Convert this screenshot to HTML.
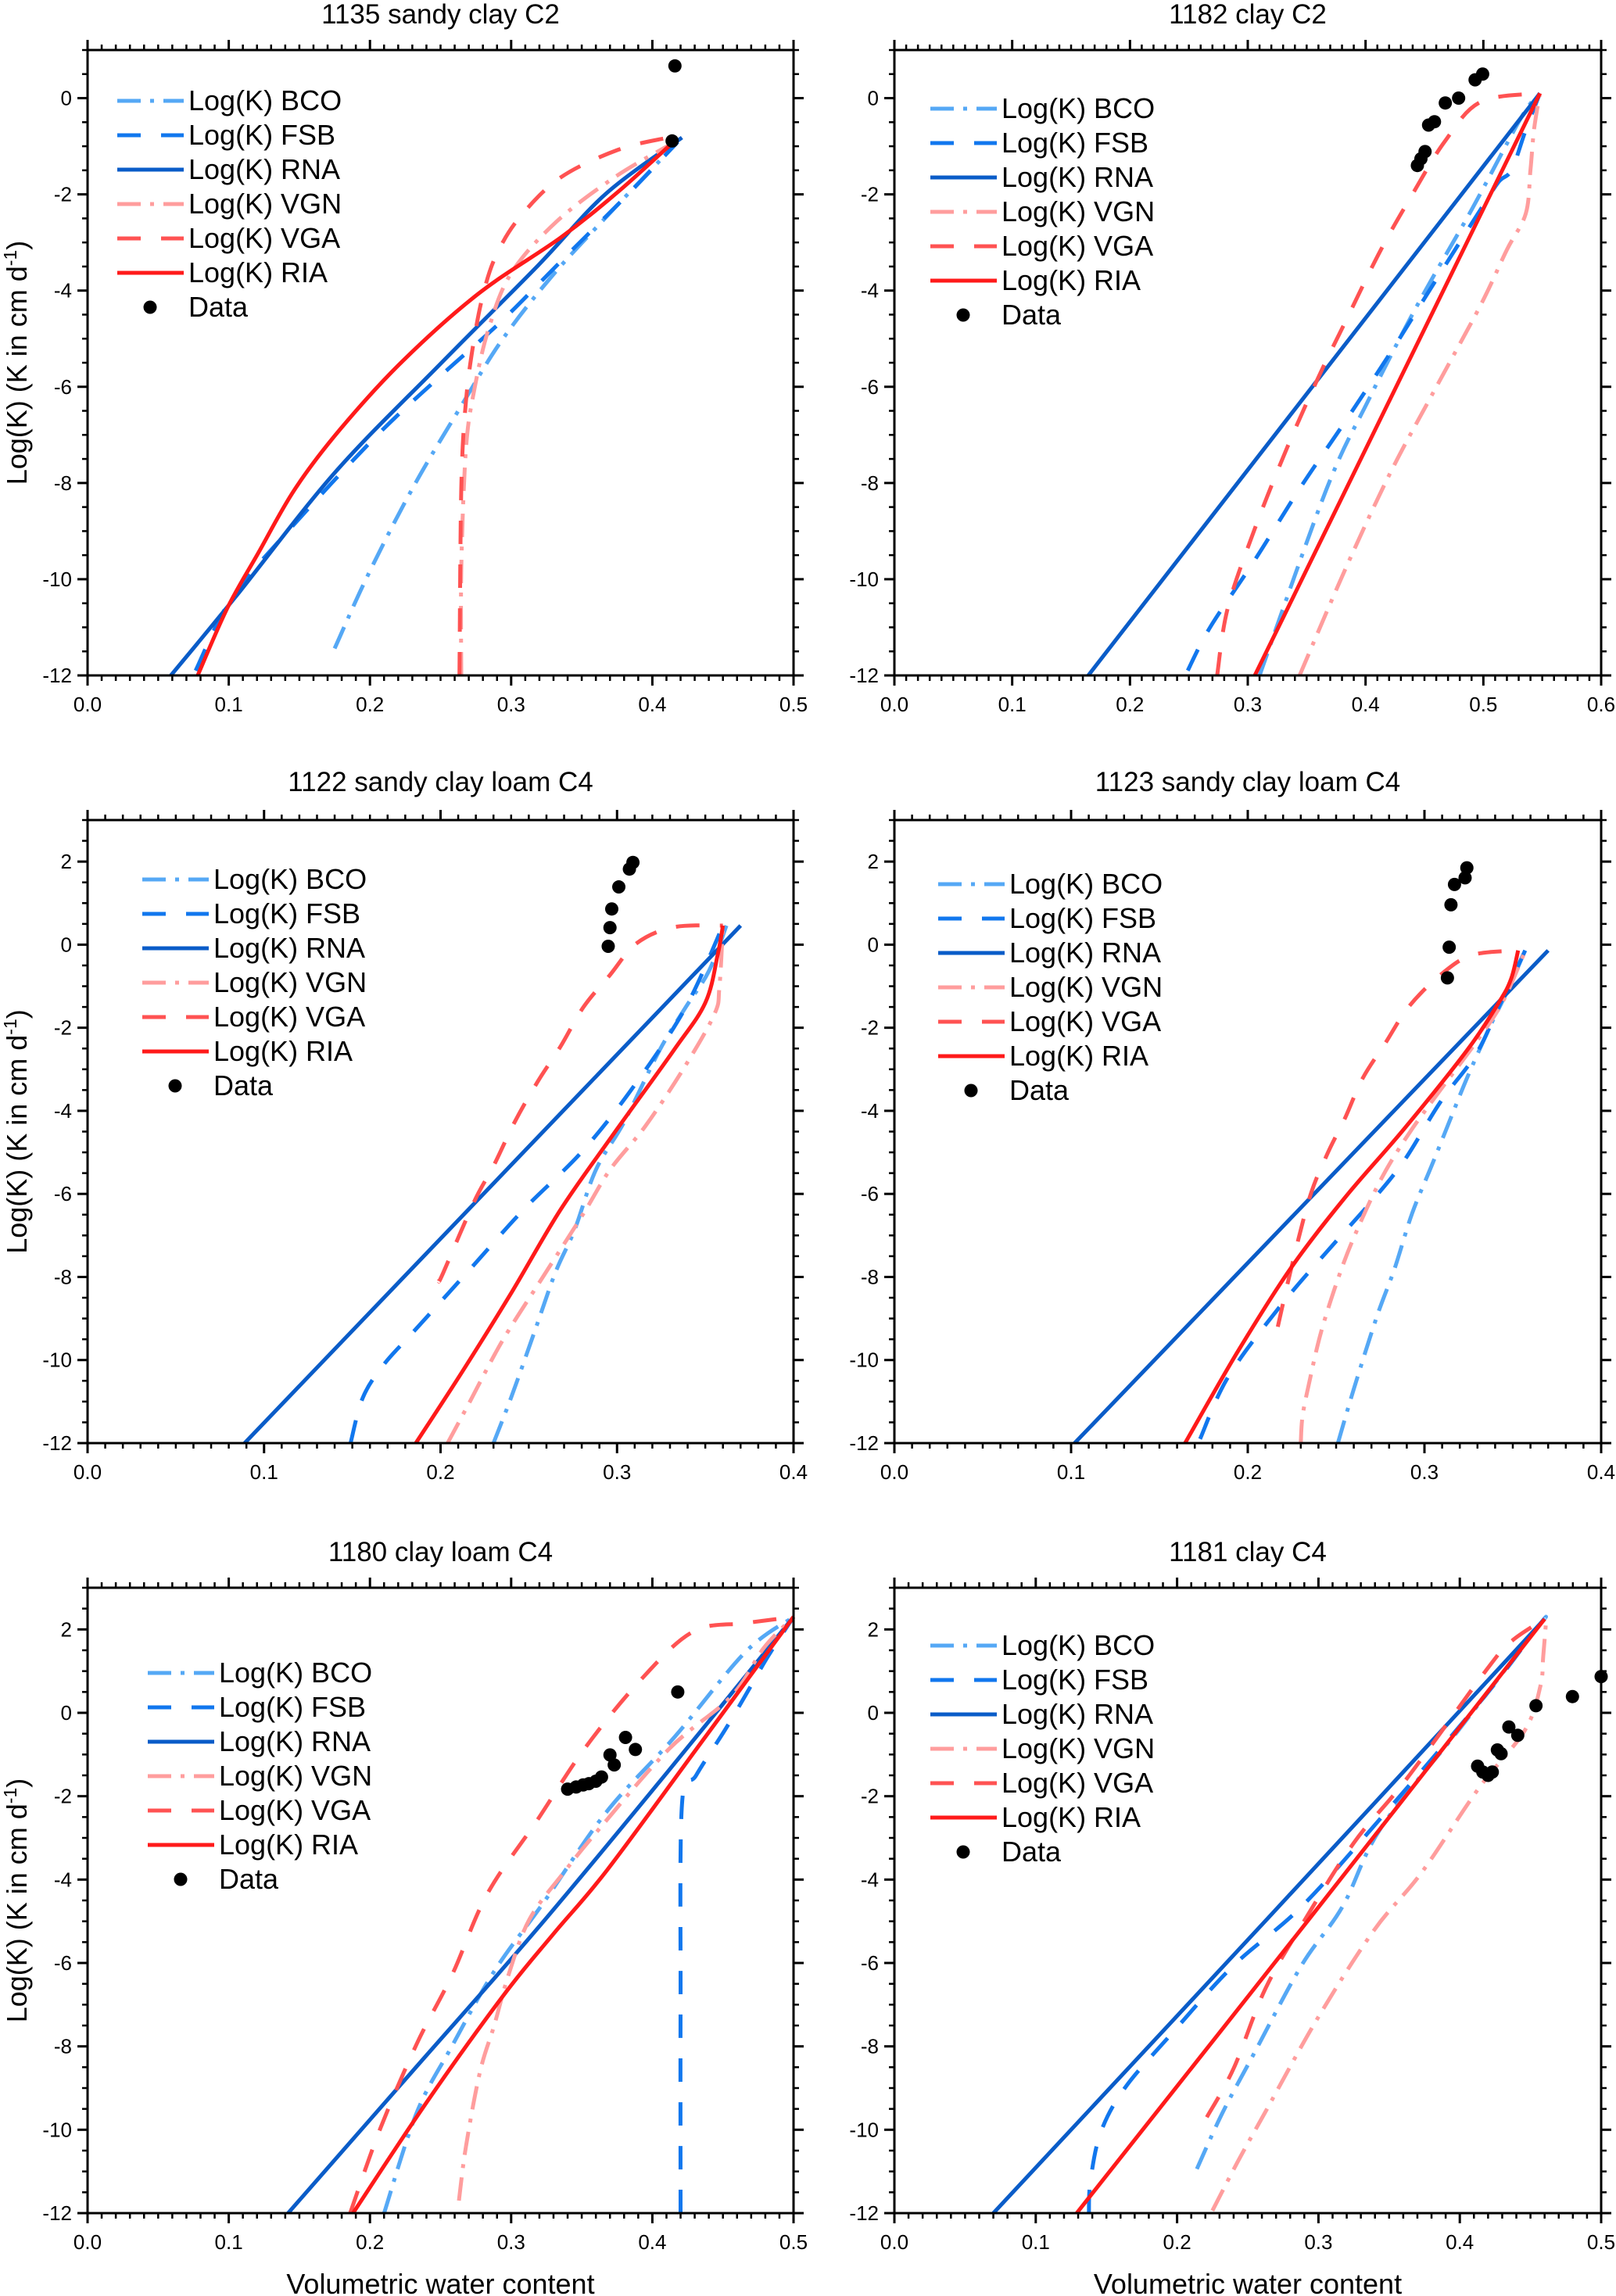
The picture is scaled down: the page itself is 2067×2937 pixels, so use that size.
<!DOCTYPE html>
<html><head><meta charset="utf-8">
<style>
html,body{margin:0;padding:0;background:#fff;}
svg{display:block;font-family:"Liberation Sans",Arial,sans-serif;}
</style></head>
<body>
<svg id="fig" width="2067" height="2937" viewBox="0 0 2067 2937" xmlns="http://www.w3.org/2000/svg"></svg>
<script>
// ---------- DATA (theta, logK) ----------
const p1BCO=[[0.175,-11.44],[0.198,-9.95],[0.23,-8.12],[0.265,-6.38],[0.293,-5.05],[0.328,-3.73],[0.367,-2.48],[0.402,-1.4],[0.418,-0.91]];
const p1FSB=[[0.0765,-11.9],[0.102,-10.4],[0.1435,-8.95],[0.204,-7.04],[0.249,-5.8],[0.293,-4.64],[0.338,-3.31],[0.383,-1.99],[0.418,-0.91]];
const p1RNA=[[0.059,-12],[0.105,-10.36],[0.175,-7.79],[0.249,-5.55],[0.319,-3.48],[0.367,-1.99],[0.421,-0.82]];
const p1VGN=[[0.2647,-12],[0.2647,-9.78],[0.268,-7.29],[0.274,-6.05],[0.284,-4.8],[0.3,-3.64],[0.332,-2.57],[0.373,-1.65],[0.411,-0.99]];
const p1VGA=[[0.2634,-12],[0.2647,-8.12],[0.268,-6.3],[0.274,-4.97],[0.281,-3.98],[0.29,-3.23],[0.306,-2.48],[0.335,-1.65],[0.376,-1.07],[0.411,-0.82]];
const p1RIA=[[0.078,-12],[0.099,-10.6],[0.121,-9.45],[0.147,-8.12],[0.179,-6.88],[0.223,-5.47],[0.277,-4.06],[0.335,-2.9],[0.376,-1.94],[0.415,-0.91]];
const p1DATA=[[0.416,0.67],[0.414,-0.89]];

const p2BCO=[[0.31,-12],[0.367,-8.12],[0.402,-6.3],[0.444,-4.3],[0.49,-2.32],[0.532,-0.41],[0.548,0.1]];
const p2FSB=[[0.249,-11.9],[0.268,-11.0],[0.306,-9.6],[0.344,-8.12],[0.383,-6.71],[0.421,-5.3],[0.459,-3.81],[0.4975,-2.32],[0.513,-1.74],[0.524,-1.49],[0.536,-0.66],[0.548,0.1]];
const p2RNA=[[0.1646,-12],[0.548,0.1]];
const p2VGN=[[0.344,-12],[0.383,-9.78],[0.421,-7.79],[0.459,-6.05],[0.4975,-4.31],[0.52,-3.15],[0.536,-2.4],[0.54,-1.49],[0.543,-0.66],[0.548,0.1]];
const p2VGA=[[0.274,-12],[0.283,-10.6],[0.306,-8.95],[0.333,-7.29],[0.36,-5.8],[0.383,-4.64],[0.413,-3.15],[0.44,-1.99],[0.467,-0.91],[0.4975,-0.08],[0.548,0.1]];
const p2RIA=[[0.306,-12],[0.548,0.1]];
const p2DATA=[[0.444,-1.4],[0.447,-1.26],[0.4505,-1.11],[0.4535,-0.56],[0.4585,-0.49],[0.4677,-0.1],[0.479,0.0],[0.493,0.38],[0.4994,0.5]];

const p3BCO=[[0.23,-12],[0.24,-10.9],[0.253,-9.35],[0.265,-7.9],[0.276,-6.86],[0.288,-5.42],[0.304,-4.27],[0.324,-2.55],[0.339,-1.5],[0.352,-0.64],[0.362,0.46]];
const p3FSB=[[0.149,-12],[0.156,-10.9],[0.168,-10.1],[0.184,-9.35],[0.217,-7.8],[0.247,-6.38],[0.281,-4.94],[0.311,-3.32],[0.339,-1.5],[0.36,0.46]];
const p3RNA=[[0.089,-12],[0.37,0.46]];
const p3VGN=[[0.204,-12],[0.217,-10.97],[0.235,-9.54],[0.258,-8.0],[0.281,-6.47],[0.296,-5.42],[0.316,-4.37],[0.337,-3.03],[0.355,-1.69],[0.358,-1.02],[0.36,0.46]];
const p3VGA=[[0.199,-8.1],[0.2015,-7.9],[0.219,-6.19],[0.23,-5.33],[0.242,-4.27],[0.255,-3.3],[0.268,-2.45],[0.281,-1.5],[0.296,-0.73],[0.311,0.03],[0.332,0.42],[0.36,0.46]];
const p3RIA=[[0.186,-12],[0.212,-10.3],[0.24,-8.39],[0.268,-6.38],[0.298,-4.56],[0.332,-2.55],[0.35,-1.4],[0.357,-0.25],[0.36,0.46]];
const p3DATA=[[0.295,-0.04],[0.296,0.41],[0.297,0.86],[0.301,1.39],[0.307,1.82],[0.309,1.98]];

const p4BCO=[[0.251,-12],[0.26,-10.7],[0.273,-8.96],[0.283,-7.81],[0.293,-6.47],[0.304,-5.33],[0.314,-4.27],[0.324,-3.22],[0.337,-1.98],[0.347,-1.11],[0.357,-0.14]];
const p4FSB=[[0.173,-11.9],[0.189,-10.4],[0.219,-8.67],[0.25,-7.14],[0.268,-6.28],[0.288,-5.23],[0.309,-3.79],[0.329,-2.65],[0.342,-1.5],[0.357,-0.14]];
const p4RNA=[[0.102,-12],[0.37,-0.14]];
const p4VGN=[[0.23,-12],[0.231,-11.35],[0.235,-10.5],[0.242,-9.25],[0.253,-7.81],[0.263,-6.76],[0.276,-5.6],[0.291,-4.56],[0.309,-3.5],[0.329,-2.36],[0.344,-1.4],[0.356,-0.25]];
const p4VGA=[[0.217,-9.2],[0.224,-7.9],[0.235,-6.09],[0.245,-5.04],[0.255,-4.18],[0.265,-3.22],[0.278,-2.36],[0.291,-1.5],[0.309,-0.73],[0.327,-0.25],[0.353,-0.14]];
const p4RIA=[[0.1645,-12],[0.194,-9.82],[0.224,-7.81],[0.255,-6.09],[0.288,-4.46],[0.324,-2.55],[0.342,-1.4],[0.349,-0.83],[0.353,-0.14]];
const p4DATA=[[0.313,-0.8],[0.314,-0.06],[0.315,0.96],[0.317,1.45],[0.323,1.61],[0.324,1.85]];

const p5BCO=[[0.21,-12],[0.233,-9.6],[0.258,-8.0],[0.288,-6.2],[0.323,-4.55],[0.367,-2.4],[0.416,-0.57],[0.466,1.46],[0.5,2.3]];
const p5FSB=[[0.42,-12],[0.42,-7],[0.421,-2.2],[0.431,-1.5],[0.452,-0.38],[0.467,0.48],[0.482,1.36],[0.5,2.3]];
const p5RNA=[[0.142,-12],[0.23,-8.6],[0.318,-5.2],[0.41,-1.45],[0.5,2.3]];
const p5VGN=[[0.263,-11.7],[0.268,-10.4],[0.278,-8.6],[0.288,-7.5],[0.298,-6.3],[0.313,-4.95],[0.338,-3.8],[0.362,-2.8],[0.412,-0.86],[0.456,0.4],[0.479,1.56],[0.5,2.3]];
const p5VGA=[[0.186,-12],[0.207,-10],[0.233,-7.95],[0.258,-6.3],[0.283,-4.35],[0.318,-2.6],[0.352,-0.86],[0.392,0.8],[0.429,1.95],[0.466,2.15],[0.5,2.3]];
const p5RIA=[[0.188,-12],[0.24,-9.35],[0.294,-6.8],[0.33,-5.3],[0.368,-3.77],[0.434,-0.74],[0.5,2.3]];
const p5DATA=[[0.34,-1.83],[0.346,-1.78],[0.351,-1.73],[0.355,-1.7],[0.36,-1.64],[0.364,-1.54],[0.37,-1.01],[0.373,-1.25],[0.381,-0.59],[0.388,-0.88],[0.418,0.5]];

const p6BCO=[[0.214,-10.94],[0.232,-9.6],[0.254,-8.2],[0.288,-6.06],[0.317,-4.65],[0.344,-2.77],[0.399,-0.42],[0.455,2.05],[0.46,2.25]];
const p6FSB=[[0.1376,-12],[0.1387,-11.23],[0.146,-10.06],[0.163,-9.0],[0.196,-7.7],[0.24,-6.06],[0.288,-4.65],[0.344,-2.53],[0.418,0.41],[0.455,2.05],[0.46,2.25]];
const p6RNA=[[0.07,-12],[0.265,-4.9],[0.46,2.25]];
const p6VGN=[[0.225,-11.94],[0.243,-10.76],[0.262,-9.6],[0.299,-7.35],[0.339,-5.23],[0.373,-3.83],[0.413,-1.83],[0.446,-0.42],[0.457,0.64],[0.459,1.35],[0.461,2.18]];
const p6VGA=[[0.221,-9.7],[0.24,-8.53],[0.262,-6.65],[0.288,-5.1],[0.325,-3.12],[0.362,-1.6],[0.418,0.99],[0.436,1.7],[0.46,2.25]];
const p6RIA=[[0.129,-12],[0.2945,-4.9],[0.46,2.25]];
const p6DATA=[[0.4126,-1.28],[0.4163,-1.42],[0.42,-1.5],[0.423,-1.42],[0.4266,-0.89],[0.4292,-0.98],[0.4347,-0.34],[0.441,-0.54],[0.4539,0.17],[0.4797,0.39],[0.5,0.87]];

const titles=["1135 sandy clay C2","1182 clay C2","1122 sandy clay loam C4","1123 sandy clay loam C4","1180 clay loam C4","1181 clay C4"];
const seriesNames=["BCO","FSB","RNA","VGN","VGA","RIA"];
const xTickLabels1=["0.0","0.1","0.2","0.3","0.4","0.5"];
const xTickLabels2=["0.0","0.1","0.2","0.3","0.4","0.5","0.6"];
const xTickLabels3=["0.0","0.1","0.2","0.3","0.4"];
const yTickLabelsA=["0","-2","-4","-6","-8","-10","-12"];
const yTickLabelsB=["2","0","-2","-4","-6","-8","-10","-12"];

// ---------- STYLES / LAYOUT ----------
const styles={
 BCO:{c:"#55a8f5",d:"30,12,5,12"},
 FSB:{c:"#1177ee",d:"30,26"},
 RNA:{c:"#0a5cc8",d:""},
 VGN:{c:"#ff9d9d",d:"30,12,5,12"},
 VGA:{c:"#ff5252",d:"30,26"},
 RIA:{c:"#ff1a1a",d:""}
};
const panels=[
 {L:112,R:1015,T:64,B:864,xmax:0.5,ymin:-12,ymax:1,xl:xTickLabels1,yl:yTickLabelsA,ty:18,lx:150,ly:129,data:[p1BCO,p1FSB,p1RNA,p1VGN,p1VGA,p1RIA,p1DATA],ylab:true},
 {L:1144,R:2048,T:64,B:864,xmax:0.6,ymin:-12,ymax:1,xl:xTickLabels2,yl:yTickLabelsA,ty:18,lx:1190,ly:139,data:[p2BCO,p2FSB,p2RNA,p2VGN,p2VGA,p2RIA,p2DATA]},
 {L:112,R:1015,T:1049,B:1846,xmax:0.4,ymin:-12,ymax:3,xl:xTickLabels3,yl:yTickLabelsB,ty:1000,lx:182,ly:1125,data:[p3BCO,p3FSB,p3RNA,p3VGN,p3VGA,p3RIA,p3DATA],ylab:true},
 {L:1144,R:2048,T:1049,B:1846,xmax:0.4,ymin:-12,ymax:3,xl:xTickLabels3,yl:yTickLabelsB,ty:1000,lx:1200,ly:1131,data:[p4BCO,p4FSB,p4RNA,p4VGN,p4VGA,p4RIA,p4DATA]},
 {L:112,R:1015,T:2031,B:2831,xmax:0.5,ymin:-12,ymax:3,xl:xTickLabels1,yl:yTickLabelsB,ty:1985,lx:189,ly:2140,data:[p5BCO,p5FSB,p5RNA,p5VGN,p5VGA,p5RIA,p5DATA],ylab:true,xlab:true},
 {L:1144,R:2048,T:2031,B:2831,xmax:0.5,ymin:-12,ymax:3,xl:xTickLabels1,yl:yTickLabelsB,ty:1985,lx:1190,ly:2105,data:[p6BCO,p6FSB,p6RNA,p6VGN,p6VGA,p6RIA,p6DATA],xlab:true}
];
const NS="http://www.w3.org/2000/svg";
const svg=document.getElementById('fig');
function mk(tag,attrs,parent){const e=document.createElementNS(NS,tag);for(const k in attrs)e.setAttribute(k,attrs[k]);(parent||svg).appendChild(e);return e;}
function smoothPath(P){
 if(P.length<3) return 'M'+P.map(q=>q[0].toFixed(1)+','+q[1].toFixed(1)).join(' L');
 let d='M'+P[0][0].toFixed(1)+','+P[0][1].toFixed(1);
 for(let i=0;i<P.length-1;i++){
  const p0=P[i-1]||P[i],p1=P[i],p2=P[i+1],p3=P[i+2]||P[i+1];
  const c1x=p1[0]+(p2[0]-p0[0])/6,c1y=p1[1]+(p2[1]-p0[1])/6;
  const c2x=p2[0]-(p3[0]-p1[0])/6,c2y=p2[1]-(p3[1]-p1[1])/6;
  d+=' C'+c1x.toFixed(1)+','+c1y.toFixed(1)+' '+c2x.toFixed(1)+','+c2y.toFixed(1)+' '+p2[0].toFixed(1)+','+p2[1].toFixed(1);
 }
 return d;
}

panels.forEach((p,i)=>{
 const g=mk('g',{});
 
 
 const sx=v=>p.L+(v/p.xmax)*(p.R-p.L);
 const sy=v=>p.B-(v-p.ymin)/(p.ymax-p.ymin)*(p.B-p.T);
 const t=mk('text',{x:(p.L+p.R)/2,y:p.ty+12,'font-size':35,'text-anchor':'middle'},g);
 t.textContent=titles[i];
 
 
 const cp=mk('clipPath',{id:'clip'+i},g);
 mk('rect',{x:p.L,y:p.T-10,width:p.R-p.L+12,height:p.B-p.T+10},cp);
 const sg=mk('g',{'clip-path':'url(#clip'+i+')'},g);
 seriesNames.forEach((n,k)=>{
  const P=p.data[k].map(d=>[sx(d[0]),sy(d[1])]);
  const pl=mk('path',{d:smoothPath(P),fill:'none',stroke:styles[n].c,'stroke-width':5,'stroke-dasharray':styles[n].d,'stroke-linejoin':'round'},sg);
  
  
 });
 p.data[6].forEach(d=>{
  const c=mk('circle',{cx:sx(d[0]),cy:sy(d[1]),r:8.5,fill:'#000'},g);
  
  
 });
 const ax=mk('g',{stroke:'#000','stroke-width':3,fill:'none'},g);
 
 
 mk('rect',{x:p.L,y:p.T,width:p.R-p.L,height:p.B-p.T},ax);
 const nMinor=Math.round(p.xmax/0.01);
 for(let j=0;j<=nMinor;j++){
  const v=j*0.01, X=sx(v), major=(j%10===0), len=major?13:7;
  mk('line',{x1:X,y1:p.B,x2:X,y2:p.B+len,'stroke-width':major?3:2.5},ax);
  mk('line',{x1:X,y1:p.T,x2:X,y2:p.T-len,'stroke-width':major?3:2.5},ax);
 }
 p.xl.forEach((lab,j)=>{
  const tx=mk('text',{x:sx(j*0.1),y:p.B+46,'font-size':26,'text-anchor':'middle'},g);
  tx.textContent=lab;
  
  
 });
 for(let v=p.ymin;v<=p.ymax+1e-9;v+=0.5){
  const Y=sy(v), major=(Math.abs(v%2)<1e-9), len=major?13:7;
  mk('line',{x1:p.L,y1:Y,x2:p.L-len,y2:Y,'stroke-width':major?3:2.5},ax);
  mk('line',{x1:p.R,y1:Y,x2:p.R+len,y2:Y,'stroke-width':major?3:2.5},ax);
 }
 p.yl.forEach(lab=>{
  const ty=mk('text',{x:p.L-20,y:sy(parseFloat(lab))+9,'font-size':26,'text-anchor':'end'},g);
  ty.textContent=lab;
  
  
 });
 const lg=mk('g',{},g);
 
 
 seriesNames.forEach((n,k)=>{
  const y=p.ly+k*44;
  mk('line',{x1:p.lx,y1:y,x2:p.lx+85,y2:y,stroke:styles[n].c,'stroke-width':5,'stroke-dasharray':styles[n].d},lg);
  const lt=mk('text',{x:p.lx+91,y:y+12,'font-size':36},lg);
  lt.textContent='Log(K) '+n;
  
  
 });
 const dy=p.ly+6*44;
 mk('circle',{cx:p.lx+42,cy:dy,r:8.5,fill:'#000'},lg);
 const dt=mk('text',{x:p.lx+91,y:dy+12,'font-size':36},lg);
 dt.textContent='Data';
 
 
 if(p.ylab){
  const cy=(p.T+p.B)/2;
  const yl=mk('text',{x:0,y:0,'font-size':36,'text-anchor':'middle',transform:'translate(34,'+cy+') rotate(-90)'},g);
  yl.innerHTML='Log(K) (K in cm d<tspan dy="-13" font-size="23">-1</tspan><tspan dy="13">)</tspan>';
  
  
 }
 if(p.xlab){
  const xl=mk('text',{x:(p.L+p.R)/2,y:2934,'font-size':36,'text-anchor':'middle'},g);
  xl.textContent='Volumetric water content';
  
  
 }
});
</script>
</body></html>
